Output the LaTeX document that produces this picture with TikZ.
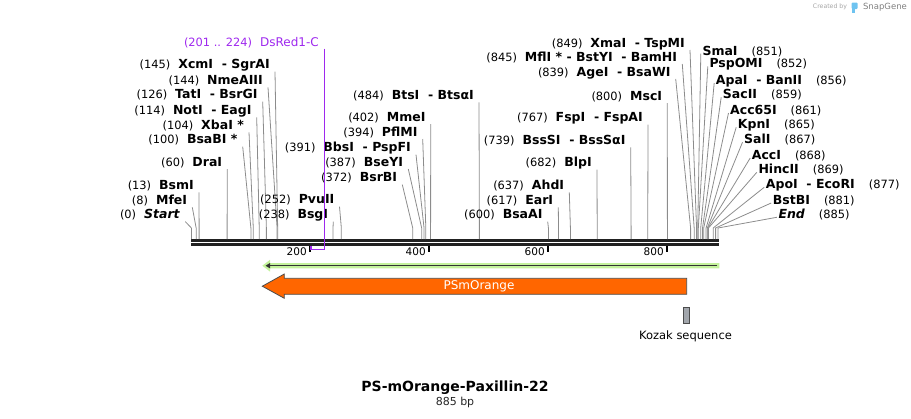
\documentclass[tikz,border=0pt]{standalone}
\usepackage{fontspec}
\setmainfont{DejaVu Sans}
\usepackage{xcolor}
\usetikzlibrary{positioning, calc, arrows.meta}

\definecolor{dsviolet}{RGB}{158,40,238}
\definecolor{psorange}{RGB}{255,102,0}
\definecolor{orfgreen}{RGB}{196,242,156}
\definecolor{kozakgray}{RGB}{162,166,172}
\definecolor{snapblue}{RGB}{110,195,240}

\newcommand{\bpnum}[1]{{\mdseries\upshape\fontsize{11.4}{13}\selectfont #1}}

\tikzset{
  enz/.style={inner sep=0pt, text height=11pt, text depth=2.2pt, font=\fontsize{12.5}{14}\selectfont\bfseries},
  cut/.style={draw=black!45, line width=0.8pt},
  backbone/.style={draw=black!87, line width=2.6pt},
  bptick/.style={draw=black, line width=2pt},
  ticklbl/.style={inner sep=0pt, font=\fontsize{10.5}{12}\selectfont},
}

\begin{document}
\begin{tikzpicture}[x=1pt, y=-1pt]
  \def\bp#1{191.4+0.595*#1}
  \useasboundingbox (0,0) rectangle (911,418);

  % credit
  \node[inner sep=0pt, text=black!35, font=\fontsize{6.2}{7}\selectfont] (credit) at (830,7) {Created by};
  \fill[snapblue, rounded corners=1pt] (851.5,2.5) rectangle (857.5,9);
  \fill[snapblue] (851.5,8) rectangle (854.5,13);
  \node[inner sep=0pt, text=black!50, font=\fontsize{8.5}{9}\selectfont] (snapgene) at (885,7) {SnapGene};

  % backbone
  \draw[backbone] (191,240.3) -- (719,240.3);
  \draw[backbone] (191,244.3) -- (719,244.3);
  \foreach \t in {200,400,600,800} {
    \draw[bptick] (\bp{\t},245.5) -- ++(0,6.5);
    \node[ticklbl, anchor=east] at (\bp{\t}-3.5,252) {\t};
  }

  % sites labelled on the left
  \foreach \nm/\x/\y/\b/\name in {
      xcmi/270/64.3/145/{XcmI\ \ - SgrAI},
      nmeaiii/263/80/144/{NmeAIII},
      tati/257.7/94.3/126/{TatI\ \ - BsrGI},
      noti/251.7/110/114/{NotI\ \ - EagI},
      xbai/244/125/104/{XbaI *},
      bsabi/237.7/139.3/100/{BsaBI *},
      drai/222.3/161.7/60/{DraI},
      bsmi/194/185/13/{BsmI},
      mfei/187.3/200/8/{MfeI},
      startlbl/180.3/214.3/0/{\textit{Start}},
      pvuii/334.5/199.3/252/{PvuII},
      bsgi/328.3/214.3/238/{BsgI},
      btsi/474/95/484/{BtsI\ \ - BtsαI},
      mmei/425.7/116.7/402/{MmeI},
      pflmi/417.7/131.7/394/{PflMI},
      bbsi/411/147.3/391/{BbsI\ \ - PspFI},
      bseyi/403.3/161.7/387/{BseYI},
      bsrbi/397.3/177.3/372/{BsrBI},
      xmai/685/42.7/849/{XmaI\ \ - TspMI},
      mfli/677.3/56.7/845/{MflI * - BstYI\ \ - BamHI},
      agei/670.7/71.7/839/{AgeI\ \ - BsaWI},
      msci/662.3/95.7/800/{MscI},
      fspi/643/117.3/767/{FspI\ \ - FspAI},
      bsssi/625.7/140/739/{BssSI\ \ - BssSαI},
      blpi/592/162.3/682/{BlpI},
      ahdi/564.3/185/637/{AhdI},
      eari/553.3/200/617/{EarI},
      bsaai/542.7/214.3/600/{BsaAI}} {
    \coordinate (c\nm) at (\bp{\b},228);
    \node[enz, anchor=east] (\nm) at (\x,\y) {\bpnum{(\b)}\hspace{8pt}\name};
    \draw[cut] ([shift={(5,0.5)}]\nm.south east) -- (c\nm) -- ++(0,11);
  }

  % sites labelled on the right
  \foreach \nm/\x/\y/\b/\name in {
      smai/702.3/50.7/851/{SmaI},
      pspomi/709.3/63.3/852/{PspOMI},
      apai/715.7/80/856/{ApaI\ \ - BanII},
      sacii/722.7/94.3/859/{SacII},
      acc/730/110/861/{Acc65I},
      kpni/737.7/124.3/865/{KpnI},
      sali/744/139.3/867/{SalI},
      acci/751.7/155/868/{AccI},
      hincii/758.3/169.3/869/{HincII},
      apoi/765.7/184.3/877/{ApoI\ \ - EcoRI},
      bstbi/772.7/200/881/{BstBI},
      endlbl/778.3/214.3/885/{\textit{End}}} {
    \coordinate (c\nm) at (\bp{\b},228);
    \node[enz, anchor=west] (\nm) at (\x,\y) {\name\hspace{14pt}\bpnum{(\b)}};
    \draw[cut] ([shift={(-1.5,3)}]\nm.west) -- (c\nm) -- ++(0,11);
  }

  % DsRed1-C
  \node[enz, anchor=east, text=dsviolet, font=\fontsize{12}{14}\selectfont] (dsred) at (319,41.7) {\bpnum{(201 .. 224)}\hspace{8pt}DsRed1-C};
  \coordinate (dsa) at (\bp{201},249.5);
  \coordinate (dsb) at (\bp{224},249.5);
  \draw[dsviolet, line width=1.5pt] (dsb |- dsred.south) -- (dsb) -- (dsa) -- ++(0,-3.5);

  % features
  \fill[orfgreen] (719.3,263) -- (270,263) -- (270,259.8) -- (262.3,265.7) -- (270,271.6) -- (270,268.4) -- (719.3,268.4) -- cycle;
  \draw[black!80, line width=1.3pt, -{Triangle[length=4.5pt, width=5pt]}] (717,265.7) -- (265.5,265.7);

  \draw[draw=black!70, line width=0.8pt, fill=psorange] (686.7,278.3) -- (284.3,278.3) -- (284.3,274) -- (262.3,286.2) -- (284.3,298.3) -- (284.3,294.3) -- (686.7,294.3) -- cycle;
  \node[text=white, font=\fontsize{12}{14}\selectfont] (psmorange) at (479,286.3) {PSmOrange};

  \node[draw=black!70, fill=kozakgray, line width=0.7pt, minimum width=6pt, minimum height=16pt, inner sep=0pt] (kozak) at (686.3,315.3) {};
  \node[inner sep=0pt, font=\fontsize{11.5}{13}\selectfont] (kozaklbl) at (685.5,336.7) {Kozak sequence};

  % title
  \node[inner sep=0pt, font=\fontsize{14}{16}\selectfont\bfseries] (title) at (455,387.3) {PS-mOrange-Paxillin-22};
  \node[inner sep=0pt, text=black!85, font=\fontsize{11}{13}\selectfont] (size) at (455,402.7) {885 bp};
\end{tikzpicture}
\end{document}
